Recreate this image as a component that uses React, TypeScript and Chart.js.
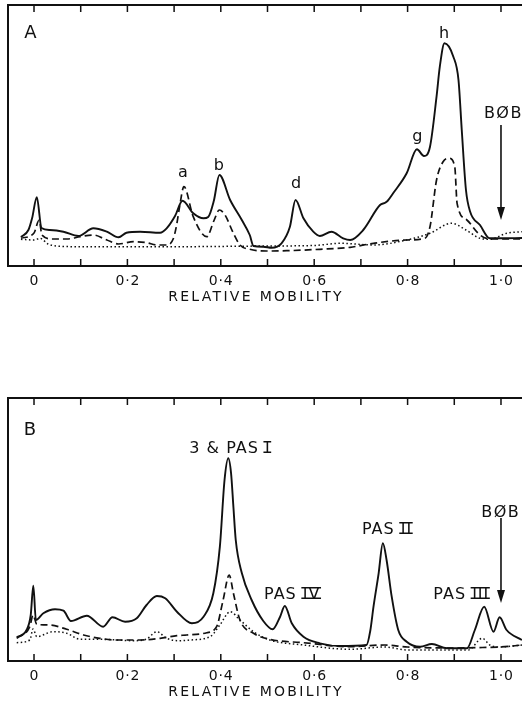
import React, { useEffect, useRef } from 'react';
import { Chart, registerables } from 'chart.js';

Chart.register(...registerables);

// ---------- data ----------
const X_MIN = -0.0557;
const X_MAX = 1.045;
const TICK_VALUES = [0, 0.1, 0.2, 0.3, 0.4, 0.5, 0.6, 0.7, 0.8, 0.9, 1.0];
const TICK_LABELS = ['0', '', '0·2', '', '0·4', '', '0·6', '', '0·8', '', '1·0'];
const AXIS_TITLE = 'RELATIVE MOBILITY';

type Pt = [number, number];

// Panel A (relative mobility, absorbance in arbitrary units)
const A_SOLID: Pt[] = [
  [-0.028, 29], [-0.012, 36], [-0.004, 48], [0.006, 68.7], [0.016, 38], [0.034, 36],
  [0.063, 34.3], [0.095, 30], [0.127, 37.7], [0.156, 34.3], [0.181, 28.7], [0.198, 33.3],
  [0.227, 34.3], [0.27, 33.3], [0.284, 37.7], [0.302, 50], [0.318, 65.3], [0.341, 52.7],
  [0.363, 47.7], [0.373, 49], [0.385, 65], [0.397, 91], [0.42, 66], [0.445, 46],
  [0.462, 31], [0.47, 20], [0.491, 19.3], [0.509, 18.3], [0.53, 22.7], [0.548, 39.3],
  [0.56, 66], [0.577, 47.7], [0.598, 34.3], [0.612, 30], [0.637, 34.3], [0.662, 27.7],
  [0.677, 26], [0.705, 36], [0.741, 61], [0.752, 63.3], [0.757, 65], [0.769, 72.7],
  [0.798, 92.7], [0.82, 116.7], [0.835, 110], [0.848, 119.3], [0.862, 169.3], [0.869, 199.3],
  [0.879, 222.7], [0.898, 209.3], [0.909, 186], [0.916, 136], [0.925, 76], [0.934, 54.3],
  [0.955, 41], [0.976, 27.7], [0.998, 27.7], [1.045, 28],
];
const A_DASHED: Pt[] = [
  [-0.028, 27.7], [0.0, 33], [0.011, 46], [0.017, 31], [0.041, 27], [0.07, 27],
  [0.099, 29.3], [0.127, 31], [0.156, 26], [0.181, 22], [0.213, 24.3], [0.241, 23.3],
  [0.263, 21], [0.284, 21], [0.298, 27], [0.305, 40], [0.312, 60], [0.321, 79.3],
  [0.341, 49.3], [0.37, 29.3], [0.385, 45], [0.397, 56], [0.409, 51], [0.427, 32.7],
  [0.441, 21], [0.462, 16.7], [0.498, 15], [0.541, 15.3], [0.612, 16.7], [0.677, 18.7],
  [0.727, 22.7], [0.798, 26], [0.837, 27.7], [0.848, 39.3], [0.862, 86], [0.876, 104.3],
  [0.889, 107.7], [0.901, 99.3], [0.906, 62.7], [0.927, 46], [0.951, 32.7], [0.969, 27.7],
  [1.0, 27], [1.045, 27],
];
const A_DOTTED: Pt[] = [
  [-0.028, 26.7], [0.0, 26], [0.013, 27.7], [0.03, 22], [0.049, 20], [0.1, 19.3],
  [0.3, 19.3], [0.5, 20], [0.6, 20.5], [0.655, 22.7], [0.727, 21], [0.798, 26],
  [0.848, 32.7], [0.894, 42.7], [0.925, 36], [0.955, 27.7], [0.976, 26.7], [1.012, 32.7],
  [1.045, 34.3],
];

// Panel B
const B_SOLID: Pt[] = [
  [-0.037, 23.7], [-0.016, 31], [-0.007, 46], [-0.0015, 75.3], [0.004, 41], [0.02, 47.7],
  [0.045, 51.7], [0.063, 50.3], [0.079, 40], [0.113, 45.3], [0.148, 34.3], [0.168, 43.7],
  [0.195, 39.3], [0.22, 42.7], [0.241, 56], [0.263, 65], [0.281, 62.7], [0.306, 49.3],
  [0.338, 37.7], [0.363, 44.3], [0.384, 67.7], [0.398, 114.3], [0.408, 181], [0.416, 202.7],
  [0.422, 187.7], [0.427, 154], [0.432, 121], [0.445, 88], [0.466, 61], [0.491, 40],
  [0.511, 31.7], [0.527, 44.3], [0.537, 55], [0.552, 37.7], [0.577, 24.3], [0.612, 17.7],
  [0.655, 15], [0.712, 16], [0.72, 30], [0.727, 54.3], [0.738, 87.7], [0.747, 117.7],
  [0.755, 101], [0.766, 64.3], [0.78, 31], [0.798, 19.3], [0.827, 14.3], [0.852, 17],
  [0.884, 12.7], [0.927, 12.7], [0.944, 31], [0.964, 54.3], [0.984, 29.3], [0.997, 43.7],
  [1.012, 31], [1.045, 21],
];
const B_DASHED: Pt[] = [
  [-0.037, 22.7], [-0.009, 34.3], [-0.002, 46], [0.006, 36.7], [0.034, 36], [0.07, 31.7],
  [0.106, 26], [0.141, 22.7], [0.177, 21], [0.227, 21], [0.27, 22.7], [0.306, 25.3],
  [0.327, 26], [0.37, 28.3], [0.391, 34.3], [0.405, 61], [0.418, 86], [0.427, 67.7],
  [0.441, 41], [0.47, 27.7], [0.505, 21.7], [0.577, 18.3], [0.677, 14.3], [0.75, 16],
  [0.8, 14], [0.9, 13], [0.96, 13.5], [1.0, 14], [1.045, 16],
];
const B_DOTTED: Pt[] = [
  [-0.037, 18.3], [-0.009, 21], [-0.002, 32], [0.006, 24.3], [0.041, 29.3], [0.07, 27.7],
  [0.099, 21.7], [0.141, 21.7], [0.213, 20.3], [0.241, 22], [0.263, 29.3], [0.284, 22.7],
  [0.309, 20.3], [0.334, 21], [0.377, 24.3], [0.398, 36], [0.42, 49.3], [0.441, 41],
  [0.47, 29.3], [0.505, 21], [0.577, 16], [0.677, 11.7], [0.75, 14], [0.8, 11],
  [0.93, 11], [0.96, 22.7], [0.976, 16], [0.998, 14], [1.045, 16],
];

// ---------- annotations (data coordinates) ----------
type Label = { text: string; roman?: string; x: number; y: number; size: number; spacing: number; mode: 'center' | 'base' };
type Arrow = { x: number; y1: number; y2: number };

const A_LABELS: Label[] = [
  { text: 'A', x: -0.0075, y: 234.5, size: 18, spacing: 0, mode: 'center' },
  { text: 'a', x: 0.319, y: 89, size: 16, spacing: 0, mode: 'base' },
  { text: 'b', x: 0.396, y: 96, size: 16, spacing: 0, mode: 'base' },
  { text: 'd', x: 0.561, y: 77.7, size: 16, spacing: 0, mode: 'base' },
  { text: 'g', x: 0.821, y: 125, size: 16, spacing: 0, mode: 'base' },
  { text: 'h', x: 0.878, y: 228, size: 16, spacing: 0, mode: 'base' },
  { text: 'BØB', x: 1.0036, y: 153.5, size: 16, spacing: 1.5, mode: 'center' },
];
const A_ARROWS: Arrow[] = [{ x: 1.0, y1: 141, y2: 46 }];

const B_LABELS: Label[] = [
  { text: 'B', x: -0.0086, y: 233, size: 18, spacing: 0, mode: 'center' },
  { text: '3 & PAS', roman: 'I', x: 0.4186, y: 214, size: 16, spacing: 1, mode: 'center' },
  { text: 'PAS', roman: 'IV', x: 0.552, y: 68, size: 16, spacing: 1, mode: 'center' },
  { text: 'PAS', roman: 'II', x: 0.755, y: 133, size: 16, spacing: 1, mode: 'center' },
  { text: 'PAS', roman: 'III', x: 0.914, y: 68, size: 16, spacing: 1, mode: 'center' },
  { text: 'BØB', x: 0.998, y: 150, size: 16, spacing: 1.5, mode: 'center' },
];
const B_ARROWS: Arrow[] = [{ x: 1.0, y1: 143, y2: 58 }];

const INK = '#111';
const FONT = '"DejaVu Sans", "Liberation Sans", Arial, sans-serif';
const CAP = 0.73;

function drawLabel(ctx: CanvasRenderingContext2D, l: Label, px: number, py: number) {
  ctx.font = `${l.size}px ${FONT}`;
  (ctx as any).letterSpacing = `${l.spacing}px`;
  const full = l.roman ? `${l.text} ${l.roman}` : l.text;
  const w = ctx.measureText(full).width - l.spacing;
  const cap = l.size * CAP;
  const base = l.mode === 'center' ? py + cap / 2 : py;
  const x0 = px - w / 2;
  ctx.textAlign = 'left';
  ctx.textBaseline = 'alphabetic';
  ctx.fillText(full, x0, base);
  if (l.roman) {
    const wPre = ctx.measureText(`${l.text} `).width;
    const wRom = ctx.measureText(l.roman).width - l.spacing;
    const rx = x0 + wPre - 1.5;
    const rw = wRom + 3;
    ctx.lineWidth = 1.5;
    ctx.beginPath();
    ctx.moveTo(rx, base - cap + 0.5);
    ctx.lineTo(rx + rw, base - cap + 0.5);
    ctx.moveTo(rx, base - 0.5);
    ctx.lineTo(rx + rw, base - 0.5);
    ctx.stroke();
  }
}

function makeDecor(letterLabels: Label[], arrows: Arrow[]) {
  return {
    id: 'decor',
    afterDatasetsDraw(chart: any) {
      const { ctx, chartArea } = chart;
      const { left, right, top, bottom } = chartArea;
      const xs = chart.scales.x;
      const ys = chart.scales.y;
      ctx.save();
      ctx.strokeStyle = INK;
      ctx.fillStyle = INK;
      // frame
      ctx.lineWidth = 2;
      ctx.beginPath();
      ctx.moveTo(right + 2, top);
      ctx.lineTo(left, top);
      ctx.lineTo(left, bottom);
      ctx.lineTo(right + 2, bottom);
      ctx.stroke();
      // inward ticks
      ctx.lineWidth = 1.5;
      TICK_VALUES.forEach((t) => {
        const px = xs.getPixelForValue(t);
        ctx.beginPath();
        ctx.moveTo(px, top);
        ctx.lineTo(px, top + 7);
        ctx.moveTo(px, bottom);
        ctx.lineTo(px, bottom - 7);
        ctx.stroke();
      });
      // tick labels
      ctx.font = `14px ${FONT}`;
      (ctx as any).letterSpacing = '0.8px';
      ctx.textAlign = 'left';
      ctx.textBaseline = 'alphabetic';
      TICK_VALUES.forEach((t, i) => {
        const s = TICK_LABELS[i];
        if (!s) return;
        const w = ctx.measureText(s).width - 0.8;
        const px = xs.getPixelForValue(t);
        ctx.fillText(s, px - w / 2, bottom + 13.5 + 5);
      });
      // axis title
      (ctx as any).letterSpacing = '2.3px';
      const tw = ctx.measureText(AXIS_TITLE).width - 2.3;
      const cx = xs.getPixelForValue(0.473);
      ctx.fillText(AXIS_TITLE, cx - tw / 2, bottom + 29.5 + 5);
      // labels
      letterLabels.forEach((l) => drawLabel(ctx, l, xs.getPixelForValue(l.x), ys.getPixelForValue(l.y)));
      (ctx as any).letterSpacing = '0px';
      // arrows
      arrows.forEach((a) => {
        const px = xs.getPixelForValue(a.x);
        const y1 = ys.getPixelForValue(a.y1);
        const y2 = ys.getPixelForValue(a.y2);
        ctx.lineWidth = 1.6;
        ctx.beginPath();
        ctx.moveTo(px, y1);
        ctx.lineTo(px, y2 - 10);
        ctx.stroke();
        ctx.beginPath();
        ctx.moveTo(px - 4, y2 - 13);
        ctx.lineTo(px + 4, y2 - 13);
        ctx.lineTo(px, y2);
        ctx.closePath();
        ctx.fill();
      });
      ctx.restore();
    },
  };
}

type PanelProps = {
  top: number;
  height: number;
  padTop: number;
  padBottom: number;
  yMax: number;
  solid: Pt[];
  dashed: Pt[];
  dotted: Pt[];
  labels: Label[];
  arrows: Arrow[];
};

function Panel(p: PanelProps) {
  const ref = useRef<HTMLCanvasElement | null>(null);
  useEffect(() => {
    if (!ref.current) return;
    const toXY = (arr: Pt[]) => arr.map(([x, y]) => ({ x, y }));
    const common = {
      borderColor: INK,
      pointRadius: 0,
      fill: false,
      cubicInterpolationMode: 'monotone' as const,
    };
    const chart = new Chart(ref.current, {
      type: 'line',
      data: {
        datasets: [
          { ...common, label: 'solid', data: toXY(p.solid), borderWidth: 1.9 },
          { ...common, label: 'dashed', data: toXY(p.dashed), borderWidth: 1.7, borderDash: [7, 4] },
          { ...common, label: 'dotted', data: toXY(p.dotted), borderWidth: 1.5, borderDash: [1.5, 2.5] },
        ],
      },
      options: {
        animation: false,
        responsive: false,
        devicePixelRatio: 1,
        events: [],
        layout: { padding: { left: 8, right: 0, top: p.padTop, bottom: p.padBottom } },
        plugins: { legend: { display: false }, tooltip: { enabled: false } },
        scales: {
          x: { type: 'linear', min: X_MIN, max: X_MAX, display: false },
          y: { type: 'linear', min: 0, max: p.yMax, display: false },
        },
      },
      plugins: [makeDecor(p.labels, p.arrows)],
    });
    return () => chart.destroy();
  }, []);
  return (
    <canvas
      ref={ref}
      width={522}
      height={p.height}
      style={{ position: 'absolute', left: 0, top: p.top, width: 522, height: p.height, display: 'block' }}
    />
  );
}

export default function App() {
  return (
    <div style={{ position: 'absolute', left: 0, top: 0, width: 522, height: 701, background: '#fff', overflow: 'hidden' }}>
      <Panel top={0} height={310} padTop={5} padBottom={44} yMax={261}
        solid={A_SOLID} dashed={A_DASHED} dotted={A_DOTTED} labels={A_LABELS} arrows={A_ARROWS} />
      <Panel top={390} height={311} padTop={8} padBottom={40} yMax={263}
        solid={B_SOLID} dashed={B_DASHED} dotted={B_DOTTED} labels={B_LABELS} arrows={B_ARROWS} />
    </div>
  );
}
